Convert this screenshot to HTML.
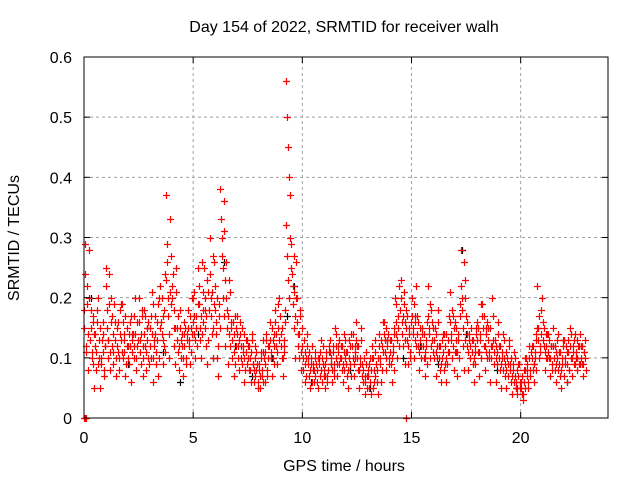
<!DOCTYPE html>
<html><head><meta charset="utf-8"><style>
html,body{margin:0;padding:0;background:#fff;}
svg{display:block;font-family:"Liberation Sans",sans-serif;}
</style></head><body>
<svg id="chart" width="640" height="480">
<text x="344" y="32" font-size="16" text-anchor="middle">Day 154 of 2022, SRMTID for receiver walh</text>
<text x="344" y="471" font-size="16" text-anchor="middle">GPS time / hours</text>
<text x="19" y="238" font-size="16" text-anchor="middle" transform="rotate(-90 19 238)">SRMTID / TECUs</text>
<g id="grid"></g>
<g id="blackPts"></g>
<g id="redPts"></g>
<rect x="84" y="57" width="524" height="361" fill="none" stroke="#000"/>
<g id="ticks"></g>
</svg>
<script>
const xTicks=[0,5,10,15,20];
const yTicks=[0,0.1,0.2,0.3,0.4,0.5,0.6];
const yTickLabels=["0","0.1","0.2","0.3","0.4","0.5","0.6"];
const slotTimes=[0,0.25,0.5,0.75,1,1.25,1.5,1.75,2,2.25,2.5,2.75,3,3.25,3.5,3.75,4,4.25,4.5,4.75,5,5.25,5.5,5.75,6,6.25,6.5,6.75,7,7.25,7.5,7.75,8,8.25,8.5,8.75,9,9.25,9.5,9.75,10,10.25,10.5,10.75,11,11.25,11.5,11.75,12,12.25,12.5,12.75,13,13.25,13.5,13.75,14,14.25,14.5,14.75,15,15.25,15.5,15.75,16,16.25,16.5,16.75,17,17.25,17.5,17.75,18,18.25,18.5,18.75,19,19.25,19.5,19.75,20,20.25,20.5,20.75,21,21.25,21.5,21.75,22,22.25,22.5,22.75];
const redValues=[
[0.18,0.29,0.12,0.22,0.08],[0.2,0.15,0.1,0.17,0.05],[0.12,0.08,0.16,0.2,0.1],[0.05,0.1,0.14,0.07,0.12],
[0.25,0.15,0.1,0.19,0.08],[0.2,0.12,0.09,0.16,0.07],[0.15,0.11,0.08,0.18,0.13],[0.19,0.1,0.14,0.07,0.12],
[0.12,0.09,0.16,0.06,0.14],[0.14,0.1,0.2,0.08,0.12],[0.2,0.13,0.09,0.17,0.07],[0.18,0.12,0.08,0.15,0.1],
[0.15,0.1,0.21,0.06,0.12],[0.17,0.09,0.13,0.07,0.2],[0.22,0.14,0.09,0.18,0.11],[0.37,0.29,0.2,0.1,0.33],
[0.27,0.22,0.15,0.09,0.25],[0.15,0.11,0.08,0.18,0.13],[0.12,0.07,0.16,0.1,0.14],[0.18,0.12,0.09,0.15,0.2],
[0.2,0.14,0.1,0.17,0.25],[0.22,0.15,0.1,0.26,0.18],[0.25,0.18,0.12,0.09,0.21],[0.3,0.2,0.14,0.1,0.26],
[0.22,0.16,0.1,0.07,0.19],[0.38,0.3,0.25,0.36,0.12],[0.26,0.18,0.09,0.14,0.21],[0.15,0.1,0.07,0.17,0.12],
[0.17,0.12,0.08,0.14,0.1],[0.15,0.11,0.06,0.13,0.09],[0.12,0.08,0.1,0.06,0.14],[0.09,0.06,0.12,0.08,0.05],
[0.08,0.05,0.11,0.07,0.13],[0.1,0.06,0.14,0.08,0.12],[0.16,0.1,0.07,0.13,0.09],[0.18,0.12,0.09,0.15,0.2],
[0.14,0.1,0.07,0.12,0.16],[0.56,0.5,0.45,0.4,0.3],[0.29,0.22,0.15,0.1,0.26],[0.2,0.14,0.1,0.17,0.08],
[0.12,0.08,0.06,0.1,0.14],[0.1,0.07,0.05,0.09,0.12],[0.09,0.06,0.11,0.08,0.05],[0.1,0.07,0.13,0.06,0.09],
[0.08,0.05,0.11,0.07,0.12],[0.13,0.09,0.06,0.11,0.08],[0.15,0.1,0.07,0.12,0.09],[0.12,0.08,0.06,0.14,0.1],
[0.11,0.07,0.05,0.13,0.09],[0.14,0.1,0.07,0.12,0.16],[0.12,0.08,0.05,0.1,0.15],[0.09,0.06,0.04,0.11,0.07],
[0.08,0.05,0.1,0.04,0.12],[0.1,0.06,0.13,0.08,0.04],[0.14,0.09,0.06,0.12,0.16],[0.16,0.11,0.08,0.13,0.1],
[0.13,0.09,0.06,0.11,0.15],[0.2,0.14,0.1,0.17,0.22],[0.23,0.16,0.12,0.19,0.09],[0.18,0.13,0.09,0.15,0.11],
[0.2,0.14,0.1,0.17,0.22],[0.17,0.12,0.08,0.15,0.1],[0.14,0.1,0.07,0.12,0.16],[0.22,0.15,0.1,0.18,0.13],
[0.15,0.1,0.07,0.12,0.18],[0.12,0.08,0.06,0.1,0.14],[0.14,0.09,0.06,0.11,0.17],[0.21,0.14,0.1,0.17,0.08],
[0.16,0.11,0.07,0.13,0.19],[0.28,0.2,0.12,0.08,0.23],[0.17,0.12,0.08,0.14,0.1],[0.13,0.09,0.06,0.11,0.15],
[0.16,0.11,0.07,0.13,0.19],[0.19,0.12,0.08,0.15,0.1],[0.15,0.1,0.06,0.12,0.2],[0.13,0.09,0.06,0.11,0.16],
[0.12,0.08,0.05,0.1,0.14],[0.1,0.07,0.05,0.09,0.13],[0.09,0.06,0.04,0.08,0.11],[0.07,0.05,0.04,0.09,0.06],
[0.06,0.04,0.03,0.08,0.1],[0.1,0.07,0.05,0.12,0.08],[0.12,0.08,0.06,0.1,0.14],[0.22,0.15,0.1,0.12,0.18],
[0.16,0.12,0.08,0.14,0.1],[0.14,0.1,0.07,0.12,0.08],[0.12,0.08,0.06,0.1,0.14],[0.11,0.07,0.05,0.09,0.13],
[0.13,0.09,0.06,0.11,0.08],[0.15,0.1,0.07,0.12,0.09],[0.14,0.1,0.08,0.12,0.09],[0.12,0.09,0.07,0.11,0.1]];
const redValues2=[
[0.15,0.24,0.11,0.19,0.14,0.28],[0.13,0.18,0.11,0.16,0.09,0.14],[0.14,0.11,0.18,0.09,0.13,0.15],[0.09,0.13,0.11,0.16,0.08,0.12],
[0.22,0.18,0.13,0.24,0.11,0.16],[0.17,0.14,0.11,0.19,0.13,0.1],[0.12,0.16,0.1,0.14,0.19,0.11],[0.16,0.13,0.11,0.17,0.09,0.15],
[0.1,0.14,0.12,0.17,0.11,0.13],[0.12,0.17,0.14,0.1,0.16,0.13],[0.16,0.11,0.14,0.18,0.12,0.1],[0.14,0.17,0.11,0.13,0.16,0.09],
[0.12,0.17,0.14,0.1,0.19,0.13],[0.14,0.11,0.16,0.19,0.1,0.15],[0.16,0.2,0.13,0.17,0.12,0.24],[0.23,0.26,0.17,0.14,0.21,0.19],
[0.2,0.24,0.18,0.12,0.15,0.21],[0.13,0.17,0.12,0.15,0.1,0.14],[0.1,0.14,0.12,0.15,0.09,0.13],[0.15,0.13,0.17,0.11,0.14,0.16],
[0.17,0.21,0.13,0.15,0.12,0.19],[0.19,0.13,0.17,0.14,0.21,0.16],[0.2,0.15,0.17,0.23,0.13,0.18],[0.24,0.17,0.21,0.27,0.15,0.19],
[0.18,0.14,0.2,0.12,0.17,0.15],[0.33,0.27,0.2,0.31,0.17,0.23],[0.2,0.15,0.17,0.23,0.12,0.16],[0.13,0.16,0.11,0.14,0.09,0.15],
[0.14,0.1,0.13,0.16,0.12,0.09],[0.12,0.1,0.14,0.08,0.11,0.13],[0.1,0.12,0.08,0.11,0.13,0.09],[0.08,0.1,0.07,0.11,0.09,0.06],
[0.09,0.07,0.1,0.08,0.06,0.11],[0.11,0.09,0.13,0.07,0.1,0.12],[0.13,0.11,0.15,0.1,0.12,0.14],[0.16,0.14,0.11,0.19,0.13,0.17],
[0.12,0.15,0.1,0.13,0.11,0.18],[0.32,0.27,0.23,0.2,0.37,0.25],[0.24,0.19,0.21,0.27,0.17,0.2],[0.16,0.12,0.14,0.18,0.11,0.15],
[0.1,0.13,0.09,0.11,0.07,0.12],[0.09,0.11,0.08,0.1,0.06,0.08],[0.08,0.1,0.07,0.09,0.06,0.1],[0.09,0.11,0.08,0.1,0.12,0.07],
[0.07,0.09,0.1,0.06,0.08,0.11],[0.11,0.1,0.08,0.12,0.09,0.07],[0.12,0.14,0.09,0.11,0.13,0.1],[0.1,0.12,0.09,0.11,0.08,0.13],
[0.09,0.11,0.08,0.1,0.12,0.07],[0.12,0.14,0.09,0.11,0.1,0.13],[0.1,0.12,0.08,0.09,0.13,0.07],[0.08,0.1,0.06,0.07,0.09,0.05],
[0.07,0.09,0.06,0.08,0.1,0.05],[0.08,0.11,0.07,0.09,0.06,0.1],[0.12,0.1,0.13,0.08,0.11,0.14],[0.13,0.15,0.1,0.12,0.14,0.09],
[0.11,0.13,0.1,0.12,0.08,0.14],[0.16,0.19,0.13,0.15,0.12,0.18],[0.2,0.14,0.17,0.21,0.13,0.16],[0.15,0.17,0.12,0.14,0.1,0.16],
[0.17,0.15,0.19,0.13,0.16,0.12],[0.14,0.16,0.11,0.13,0.12,0.15],[0.12,0.14,0.1,0.11,0.13,0.09],[0.17,0.14,0.19,0.12,0.16,0.11],
[0.13,0.15,0.11,0.14,0.1,0.16],[0.1,0.12,0.09,0.13,0.11,0.08],[0.12,0.1,0.14,0.09,0.13,0.11],[0.16,0.13,0.18,0.12,0.15,0.11],
[0.13,0.15,0.11,0.14,0.1,0.17],[0.22,0.18,0.15,0.26,0.13,0.2],[0.14,0.16,0.11,0.13,0.12,0.15],[0.11,0.13,0.1,0.12,0.09,0.14],
[0.13,0.15,0.11,0.14,0.1,0.17],[0.15,0.17,0.12,0.14,0.11,0.16],[0.13,0.11,0.15,0.1,0.12,0.17],[0.11,0.13,0.1,0.12,0.09,0.14],
[0.1,0.12,0.09,0.11,0.08,0.13],[0.09,0.11,0.08,0.1,0.07,0.12],[0.08,0.1,0.07,0.09,0.06,0.1],[0.06,0.08,0.05,0.07,0.09,0.05],
[0.05,0.07,0.04,0.06,0.08,0.05],[0.08,0.09,0.06,0.1,0.07,0.11],[0.1,0.12,0.09,0.11,0.13,0.08],[0.15,0.13,0.17,0.11,0.14,0.2],
[0.13,0.15,0.11,0.12,0.1,0.14],[0.11,0.13,0.1,0.12,0.09,0.15],[0.1,0.12,0.09,0.11,0.13,0.08],[0.09,0.11,0.08,0.1,0.12,0.07],
[0.1,0.12,0.09,0.11,0.13,0.08],[0.12,0.14,0.1,0.11,0.13,0.09],[0.11,0.13,0.1,0.12,0.09,0.14],[0.1,0.12,0.09,0.11,0.13,0.08]];
const zeroTimes=[0,0.05,0.1,14.75];
const blackTimes=[0.3,1.1,2.0,2.9,3.6,4.4,5.2,5.9,6.4,6.9,7.7,8.6,9.3,9.6,10.4,11.3,12.2,13.1,13.9,14.6,15.4,16.2,17.3,17.5,18.1,18.9,19.8,20.6,21.4,22.1,22.6];
const blackValues=[0.2,0.13,0.09,0.15,0.11,0.06,0.14,0.1,0.26,0.12,0.07,0.1,0.17,0.22,0.06,0.09,0.08,0.05,0.13,0.1,0.12,0.09,0.28,0.14,0.11,0.08,0.05,0.09,0.12,0.06,0.1];

const NS="http://www.w3.org/2000/svg";
const X0=84,X1=608,Y0=418,Y1=57;
const xs=t=>X0+(X1-X0)*t/24;
const ys=v=>Y0-(Y0-Y1)*v/0.6;
function mk(tag,attrs,parent){const e=document.createElementNS(NS,tag);for(const k in attrs)e.setAttribute(k,attrs[k]);parent.appendChild(e);return e;}
const grid=document.getElementById('grid'),ticks=document.getElementById('ticks');
xTicks.forEach(t=>{
  const x=xs(t);
  if(t>0){const g=mk('line',{x1:x,x2:x,y1:Y0,y2:Y1,stroke:'#a0a0a0','stroke-dasharray':'3,3'},grid);
  
  }
  const l=mk('text',{x:x,y:443,'font-size':16,'text-anchor':'middle'},ticks);l.textContent=t;
  
  
  mk('line',{x1:x,x2:x,y1:Y0,y2:Y0-6,stroke:'#000'},ticks);
  mk('line',{x1:x,x2:x,y1:Y1,y2:Y1+6,stroke:'#000'},ticks);
});
yTicks.forEach((v,i)=>{
  const y=ys(v);
  if(i>0&&i<yTicks.length-1){const g=mk('line',{x1:X0,x2:X1,y1:y,y2:y,stroke:'#a0a0a0','stroke-dasharray':'3,3'},grid);
  
  }
  const l=mk('text',{x:72,y:y+6,'font-size':16,'text-anchor':'end'},ticks);l.textContent=yTickLabels[i];
  
  
  mk('line',{x1:X0,x2:X0+6,y1:y,y2:y,stroke:'#000'},ticks);
  mk('line',{x1:X1,x2:X1-6,y1:y,y2:y,stroke:'#000'},ticks);
});
function plus(t,v,color,parent,name){
  const x=Math.round(xs(t))+0.5,y=Math.round(ys(v))+0.5;
  const p=mk('path',{d:`M${x-3.5} ${y}H${x+3.5}M${x} ${y-3.5}V${y+3.5}`,stroke:color,'stroke-width':1.2},parent);
  
  
}
const bg=document.getElementById('blackPts'),rg=document.getElementById('redPts');
blackTimes.forEach((t,i)=>plus(t,blackValues[i],'#000',bg,'black-point'));
slotTimes.forEach((t,i)=>redValues[i].forEach((v,j)=>plus(t+j*0.05,v,'#f00',rg,'red-point')));
slotTimes.forEach((t,i)=>redValues2[i].forEach((v,j)=>plus(t+0.02+j*0.04,v,'#f00',rg,'red-point')));
zeroTimes.forEach(t=>plus(t,0,'#f00',rg,'red-zero-point'));
</script>
</body></html>
